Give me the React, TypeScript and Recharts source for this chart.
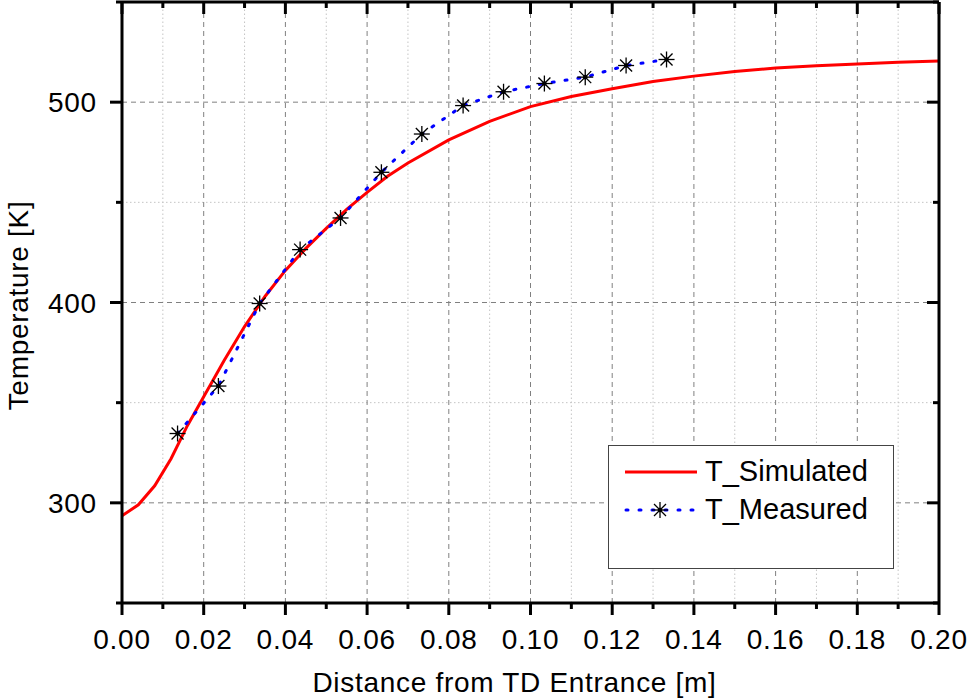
import React from 'react';
import { LineChart, Line, XAxis, YAxis, ReferenceLine, Legend } from 'recharts';

const FONT = '"Liberation Sans", Arial, Helvetica, sans-serif';

// Simulated temperature profile
const simX = [0, 0.004, 0.008, 0.012, 0.016, 0.02, 0.025, 0.03, 0.035, 0.04, 0.045, 0.05, 0.055, 0.06, 0.065, 0.07, 0.08, 0.09, 0.1, 0.11, 0.12, 0.13, 0.14, 0.15, 0.16, 0.17, 0.18, 0.19, 0.2];
const simT = [293.5, 299, 308.5, 322, 338.5, 353, 371, 388, 403, 416, 427, 437, 446.5, 455, 463, 469.6, 481.2, 490.4, 497.8, 502.8, 506.7, 510.3, 513, 515.3, 517, 518.2, 519.1, 519.9, 520.6];

// Measured temperatures
const measX = [0.0136, 0.0236, 0.0337, 0.0436, 0.0535, 0.0635, 0.0734, 0.0835, 0.0934, 0.1034, 0.1134, 0.1234, 0.1333];
const measT = [334.6, 358.3, 399.5, 426.4, 442.2, 465.0, 484.1, 498.3, 505.2, 509.3, 512.5, 518.3, 521.3];

// Ticks
const xMajor = [0, 0.02, 0.04, 0.06, 0.08, 0.1, 0.12, 0.14, 0.16, 0.18, 0.2];
const xMinor = [0.01, 0.03, 0.05, 0.07, 0.09, 0.11, 0.13, 0.15, 0.17, 0.19];
const yMajor = [300, 400, 500];
const yMinor = [250, 350, 450, 550];

const xTicks = [...xMajor, ...xMinor].sort((a, b) => a - b);
const yTicks = [...yMajor, ...yMinor].sort((a, b) => a - b);

const simData = simX.map((x, i) => ({ x, t: simT[i] }));
const measData = measX.map((x, i) => ({ x, t: measT[i] }));

const isIn = (arr: number[], v: number) => arr.some((a) => Math.abs(a - v) < 1e-9);

const MAJ = 12;
const MIN = 6;
const SW = 3;

function BottomTick(props: any) {
  const { x, y, payload } = props;
  const major = isIn(xMajor, payload.value);
  return (
    <g>
      <path d={`M${x},${y}V${y + (major ? MAJ : MIN)}`} stroke="#000" strokeWidth={SW} fill="none" />
      {major && (
        <text x={x} y={y + 46} textAnchor="middle" fontSize={28} letterSpacing={0.8} fontFamily={FONT} fill="#000">
          {payload.value.toFixed(2)}
        </text>
      )}
    </g>
  );
}

function TopTick(props: any) {
  const { x, y, payload } = props;
  const major = isIn(xMajor, payload.value);
  return <path d={`M${x},${y}V${y + (major ? MAJ : MIN)}`} stroke="#000" strokeWidth={SW} fill="none" />;
}

function LeftTick(props: any) {
  const { x, y, payload } = props;
  const major = isIn(yMajor, payload.value);
  return (
    <g>
      <path d={`M${x - (major ? MAJ : MIN)},${y}H${x}`} stroke="#000" strokeWidth={SW} fill="none" />
      {major && (
        <text x={x - 25} y={y + 10} textAnchor="end" fontSize={28} letterSpacing={0.8} fontFamily={FONT} fill="#000">
          {String(payload.value)}
        </text>
      )}
    </g>
  );
}

function RightTick(props: any) {
  const { x, y, payload } = props;
  const major = isIn(yMajor, payload.value);
  return <path d={`M${x - (major ? MAJ : MIN)},${y}H${x}`} stroke="#000" strokeWidth={SW} fill="none" />;
}

function Star({ cx, cy, r = 8 }: { cx: number; cy: number; r?: number }) {
  const d = r * 0.75;
  return (
    <g stroke="#000" strokeWidth={1.3}>
      <line x1={cx - r} x2={cx + r} y1={cy} y2={cy} />
      <line x1={cx} x2={cx} y1={cy - r} y2={cy + r} />
      <line x1={cx - d} y1={cy - d} x2={cx + d} y2={cy + d} />
      <line x1={cx - d} y1={cy + d} x2={cx + d} y2={cy - d} />
      <circle cx={cx} cy={cy} r={2.3} fill="#000" stroke="none" />
    </g>
  );
}

const renderLegend = () => (
  <svg width={287} height={125} style={{ display: 'block' }}>
    <rect x={0.5} y={0.5} width={285} height={123} fill="#fff" stroke="#444" strokeWidth={1} />
    <line x1={17} x2={89} y1={27} y2={27} stroke="#ff0000" strokeWidth={3} />
    <text x={97} y={36} fontSize={29} fontFamily={FONT} fill="#000">T_Simulated</text>
    <line x1={18} x2={87} y1={65} y2={65} stroke="#0000ff" strokeWidth={3} strokeDasharray="2 11" strokeLinecap="round" />
    <Star cx={52} cy={65} />
    <text x={97} y={74} fontSize={29} fontFamily={FONT} fill="#000">T_Measured</text>
  </svg>
);

const XTitle = (props: any) => {
  const vb = props.viewBox || {};
  return (
    <text x={vb.x + vb.width / 2 - 16} y={vb.y + 89} textAnchor="middle" fontSize={28} letterSpacing={0.7} fontFamily={FONT} fill="#000">
      Distance from TD Entrance [m]
    </text>
  );
};

const YTitle = (props: any) => {
  const vb = props.viewBox || {};
  const cx = vb.x + 27.5;
  const cy = vb.y + vb.height / 2 + 3;
  return (
    <text x={cx} y={cy} transform={`rotate(-90 ${cx} ${cy})`} textAnchor="middle" fontSize={28} letterSpacing={0.7} fontFamily={FONT} fill="#000">
      Temperature [K]
    </text>
  );
};

const axisLineStyle = { stroke: '#000', strokeWidth: SW };

export default function App() {
  return (
    <div style={{ position: 'absolute', left: 0, top: 0, background: '#fff' }}>
      <LineChart width={967} height={699} margin={{ top: 1, right: 27, left: 0, bottom: 0 }}>
        <XAxis
          dataKey="x"
          type="number"
          domain={[0, 0.2]}
          ticks={xTicks}
          interval={0}
          allowDataOverflow
          height={96}
          tickSize={0}
          tickMargin={0}
          tickLine={false}
          axisLine={axisLineStyle}
          tick={<BottomTick />}
          label={<XTitle />}
        />
        <XAxis
          xAxisId="top"
          orientation="top"
          dataKey="x"
          type="number"
          domain={[0, 0.2]}
          ticks={xTicks}
          interval={0}
          allowDataOverflow
          height={1}
          tickSize={0}
          tickMargin={0}
          tickLine={false}
          axisLine={axisLineStyle}
          tick={<TopTick />}
        />
        <YAxis
          type="number"
          domain={[250, 550]}
          ticks={yTicks}
          interval={0}
          allowDataOverflow
          width={122}
          tickSize={0}
          tickMargin={0}
          tickLine={false}
          axisLine={axisLineStyle}
          tick={<LeftTick />}
          label={<YTitle />}
        />
        <YAxis
          yAxisId="right"
          orientation="right"
          type="number"
          domain={[250, 550]}
          ticks={yTicks}
          interval={0}
          allowDataOverflow
          width={1}
          tickSize={0}
          tickMargin={0}
          tickLine={false}
          axisLine={axisLineStyle}
          tick={<RightTick />}
        />
        {xMinor.map((v) => (
          <ReferenceLine key={'xm' + v} x={v} stroke="#c4c4c4" strokeWidth={1} strokeDasharray="1.5 2.5" />
        ))}
        {yMinor.slice(1, -1).map((v) => (
          <ReferenceLine key={'ym' + v} y={v} stroke="#c4c4c4" strokeWidth={1} strokeDasharray="1.5 2.5" />
        ))}
        {xMajor.slice(1, -1).map((v) => (
          <ReferenceLine key={'xM' + v} x={v} stroke="#808080" strokeWidth={1} strokeDasharray="5 4" />
        ))}
        {yMajor.map((v) => (
          <ReferenceLine key={'yM' + v} y={v} stroke="#808080" strokeWidth={1} strokeDasharray="5 4" />
        ))}
        <Line
          data={simData}
          dataKey="t"
          name="T_Simulated"
          type="linear"
          stroke="#ff0000"
          strokeWidth={3}
          dot={false}
          activeDot={false}
          isAnimationActive={false}
        />
        <Line
          data={measData}
          dataKey="t"
          name="T_Measured"
          type="linear"
          stroke="#0000ff"
          strokeWidth={3}
          strokeDasharray="2 11"
          strokeLinecap="round"
          dot={(p: any) => <Star key={'s' + p.index} cx={p.cx} cy={p.cy} />}
          activeDot={false}
          isAnimationActive={false}
        />
        <Legend
          layout="vertical"
          align="center"
          verticalAlign="middle"
          content={renderLegend}
          wrapperStyle={{ left: 608, top: 445, width: 287, height: 125 }}
        />
      </LineChart>
    </div>
  );
}
